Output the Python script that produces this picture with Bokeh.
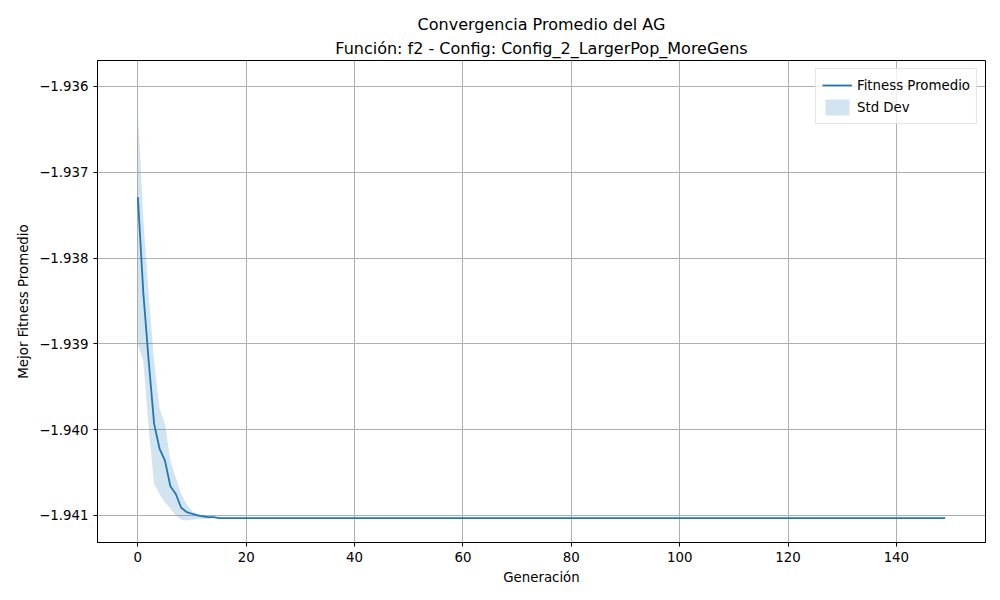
from bokeh.plotting import figure
from bokeh.models import Title, Range1d, FixedTicker, CustomJSTickFormatter, Legend, LegendItem
from bokeh.embed import file_html
from bokeh.resources import INLINE

head_mean = [-1.93729, -1.93840, -1.93920, -1.93993, -1.94022, -1.94036, -1.94066, -1.94075,
             -1.94091, -1.94096, -1.94098, -1.94100, -1.94101, -1.94102, -1.94102, -1.94103]
head_up = [-1.93628, -1.93753, -1.93842, -1.93920, -1.93975, -1.93993, -1.94036, -1.94056,
           -1.94075, -1.94087, -1.94095, -1.94098, -1.94100, -1.94101, -1.94102, -1.94103]
head_lo = [-1.93900, -1.93920, -1.93998, -1.94063, -1.94075, -1.94085, -1.94092, -1.94100,
           -1.94105, -1.94106, -1.94105, -1.94104, -1.94104, -1.94104, -1.94103, -1.94103]
n_gen = 150
final_value = -1.94103
generations = list(range(n_gen))
mean = head_mean + [final_value] * (n_gen - len(head_mean))
upper = head_up + [final_value] * (n_gen - len(head_up))
lower = head_lo + [final_value] * (n_gen - len(head_lo))
y_ticks = [-1.941, -1.940, -1.939, -1.938, -1.937, -1.936]
x_ticks = [0, 20, 40, 60, 80, 100, 120, 140]

FONT = "DejaVu Sans"
p = figure(width=992, height=592, output_backend="svg", toolbar_location=None,
           x_range=Range1d(-7.45, 156.45), y_range=Range1d(-1.941315, -1.935697),
           min_border_left=97, min_border_right=7, min_border_top=60, min_border_bottom=50,
           background_fill_color="white", border_fill_color="white")
p.title = None
p.add_layout(Title(text="Función: f2 - Config: Config_2_LargerPop_MoreGens", align="center",
                   text_font=FONT, text_font_size="12pt", text_font_style="normal",
                   text_color="black", offset=0, standoff=6), "above")
p.add_layout(Title(text="Convergencia Promedio del AG", align="center",
                   text_font=FONT, text_font_size="12pt", text_font_style="normal",
                   text_color="black", offset=0, standoff=0), "above")

band = p.varea(x=generations, y1=lower, y2=upper, fill_color="#1f77b4", fill_alpha=0.2)
line = p.line(x=generations, y=mean, line_color="#1f77b4", line_width=1.8)

p.xaxis.ticker = FixedTicker(ticks=x_ticks)
p.yaxis.ticker = FixedTicker(ticks=y_ticks)
p.yaxis.formatter = CustomJSTickFormatter(code="return (tick<0?'\u2212':'')+Math.abs(tick).toFixed(3);")
p.xaxis.axis_label = "Generación"
p.yaxis.axis_label = "Mejor Fitness Promedio"
for ax in (p.xaxis, p.yaxis):
    ax.axis_label_text_font = FONT
    ax.axis_label_text_font_size = "10pt"
    ax.axis_label_text_font_style = "normal"
    ax.axis_label_text_color = "black"
    ax.major_label_text_font = FONT
    ax.major_label_text_font_size = "10pt"
    ax.major_label_text_color = "black"
    ax.minor_tick_line_color = None
    ax.major_tick_out = 4
    ax.major_tick_in = 0
    ax.axis_line_color = "black"
    ax.major_tick_line_color = "black"
p.grid.grid_line_color = "#b0b0b0"
p.grid.grid_line_width = 1
p.outline_line_color = "black"
p.outline_line_alpha = 1

legend = Legend(items=[LegendItem(label="Fitness Promedio", renderers=[line]),
                       LegendItem(label="Std Dev", renderers=[band])],
                location="top_right", label_text_font=FONT, label_text_font_size="10pt",
                label_text_color="black",
                border_line_color="#cccccc", background_fill_alpha=0.8,
                glyph_width=30, label_height=14, spacing=2, margin=8, padding=6)
p.add_layout(legend)

open("out.html", "w").write(file_html(p, INLINE))
